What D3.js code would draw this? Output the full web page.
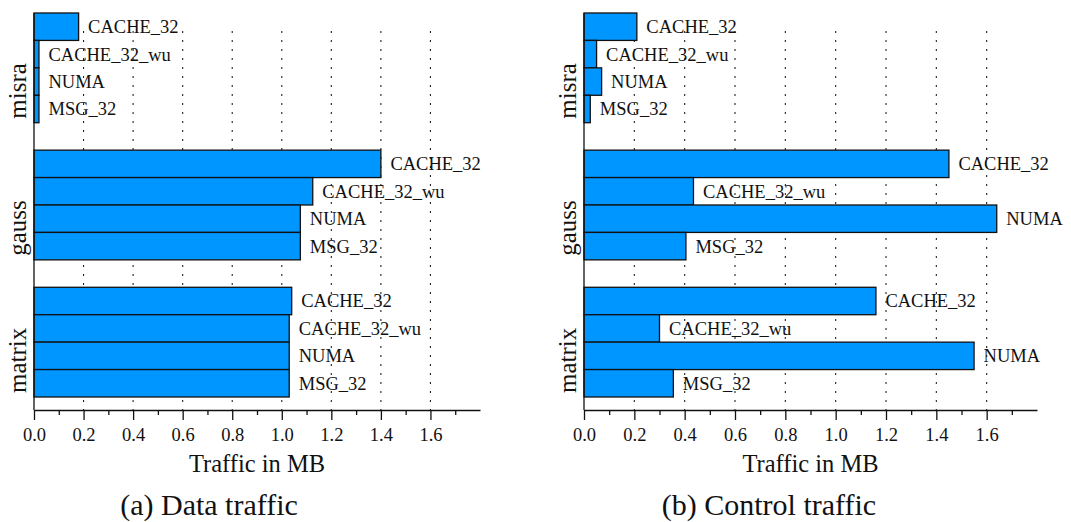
<!DOCTYPE html>
<html>
<head>
<meta charset="utf-8">
<script src="https://cdn.jsdelivr.net/npm/d3@7"></script>
<style>
    html, body { margin: 0; padding: 0; background: #fff; }
    svg { display: block; }
    svg text { font-family: "Liberation Serif", "DejaVu Serif", serif !important; }
</style>
</head>
<body>
<div class="js-canvas"></div>
<script>
'use strict';

// categories, top to bottom
const benchmarks = ['misra', 'gauss', 'matrix'];
const protocols = ['CACHE_32', 'CACHE_32_wu', 'NUMA', 'MSG_32'];

// traffic in MB, one row per benchmark, columns follow `protocols`
const dataTraffic = [
    [0.18, 0.02, 0.02, 0.02],
    [1.40, 1.125, 1.075, 1.075],
    [1.04, 1.03, 1.03, 1.03]
];
const controlTraffic = [
    [0.21, 0.05, 0.07, 0.025],
    [1.45, 0.435, 1.64, 0.405],
    [1.16, 0.30, 1.55, 0.355]
];

const xTicks = [0.0, 0.2, 0.4, 0.6, 0.8, 1.0, 1.2, 1.4, 1.6];
const xMinorTicks = [0.1, 0.3, 0.5, 0.7, 0.9, 1.1, 1.3, 1.5, 1.7];
const xMax = 1.8;

const config = {
    width: 1071,
    height: 522,
    top: 13,
    barsBottom: 397,
    axisY: 410,
    gridTop: 31,
    barColor: '#0096ff',
    font: '"Liberation Serif", "DejaVu Serif", serif'
};

const svg = d3.select('.js-canvas')
    .append('svg')
    .attr('width', config.width)
    .attr('height', config.height)
    .attr('font-family', config.font)
    ;

function drawPanel(panel) {
    const g = svg.append('g');

    const x = d3.scaleLinear()
        .domain([0, xMax])
        .range([panel.left, panel.right])
        ;

    const yGroup = d3.scaleBand()
        .domain(benchmarks)
        .range([config.top, config.barsBottom])
        .paddingInner(0.2)
        .paddingOuter(0)
        ;

    const yBar = d3.scaleBand()
        .domain(protocols)
        .range([0, yGroup.bandwidth()])
        ;

    // dotted vertical grid
    g.append('g')
        .selectAll('line')
        .data(xTicks.slice(1))
        .enter().append('line')
        .attr('x1', d => x(d))
        .attr('x2', d => x(d))
        .attr('y1', config.gridTop)
        .attr('y2', config.axisY)
        .attr('stroke', '#222')
        .attr('stroke-width', 1.1)
        .attr('stroke-dasharray', '2,7')
        ;

    // flatten rows into bars
    const bars = [];
    benchmarks.forEach((b, i) => {
        protocols.forEach((p, j) => {
            bars.push({ bench: b, proto: p, value: panel.values[i][j] });
        });
    });

    g.append('g')
        .selectAll('rect')
        .data(bars)
        .enter().append('rect')
        .attr('x', x(0))
        .attr('y', d => yGroup(d.bench) + yBar(d.proto))
        .attr('width', d => x(d.value) - x(0))
        .attr('height', yBar.bandwidth())
        .attr('fill', config.barColor)
        .attr('stroke', '#111')
        .attr('stroke-width', 1.3)
        ;

    g.append('g')
        .selectAll('text')
        .data(bars)
        .enter().append('text')
        .attr('x', d => x(d.value) + 9.5)
        .attr('y', d => yGroup(d.bench) + yBar(d.proto) + yBar.bandwidth() / 2)
        .attr('dy', '0.35em')
        .attr('font-size', 18.5)
        .attr('fill', '#111')
        .text(d => d.proto)
        ;

    // benchmark names, rotated
    g.append('g')
        .selectAll('text')
        .data(benchmarks)
        .enter().append('text')
        .attr('transform', d => `translate(${panel.left - 8}, ${yGroup(d) + yGroup.bandwidth() - 4}) rotate(-90)`)
        .attr('font-size', 25)
        .attr('fill', '#111')
        .text(d => d)
        ;

    // y axis line
    g.append('line')
        .attr('x1', x(0))
        .attr('x2', x(0))
        .attr('y1', config.top)
        .attr('y2', config.axisY)
        .attr('stroke', '#111')
        .attr('stroke-width', 1.3)
        ;

    // x axis: major + minor ticks
    const xAxis = d3.axisBottom(x)
        .tickValues(xTicks)
        .tickFormat(d3.format('.1f'))
        .tickSize(10)
        .tickSizeOuter(0)
        .tickPadding(8)
        ;
    const xMinor = d3.axisBottom(x)
        .tickValues(xMinorTicks)
        .tickFormat('')
        .tickSize(5)
        .tickSizeOuter(0)
        ;

    const axisG = g.append('g')
        .attr('transform', `translate(0, ${config.axisY})`)
        .call(xAxis)
        .attr('font-family', config.font)
        ;
    g.append('g')
        .attr('transform', `translate(0, ${config.axisY})`)
        .call(xMinor)
        .select('.domain').remove()
        ;

    g.selectAll('.tick line, .domain')
        .attr('stroke', '#111')
        .attr('stroke-width', 1.3)
        ;
    axisG.selectAll('text')
        .attr('font-size', 18.5)
        .attr('fill', '#111')
        ;

    g.append('text')
        .attr('x', (panel.left + panel.right) / 2)
        .attr('y', 472)
        .attr('text-anchor', 'middle')
        .attr('font-size', 24.5)
        .attr('fill', '#111')
        .text('Traffic in MB')
        ;

    g.append('text')
        .attr('x', panel.captionX)
        .attr('y', 515)
        .attr('text-anchor', 'middle')
        .attr('font-size', 30)
        .attr('fill', '#111')
        .text(panel.caption)
        ;
}

drawPanel({ left: 34, right: 480, values: dataTraffic, caption: '(a) Data traffic', captionX: 209 });
drawPanel({ left: 584, right: 1037, values: controlTraffic, caption: '(b) Control traffic', captionX: 769 });
</script>
</body>
</html>
